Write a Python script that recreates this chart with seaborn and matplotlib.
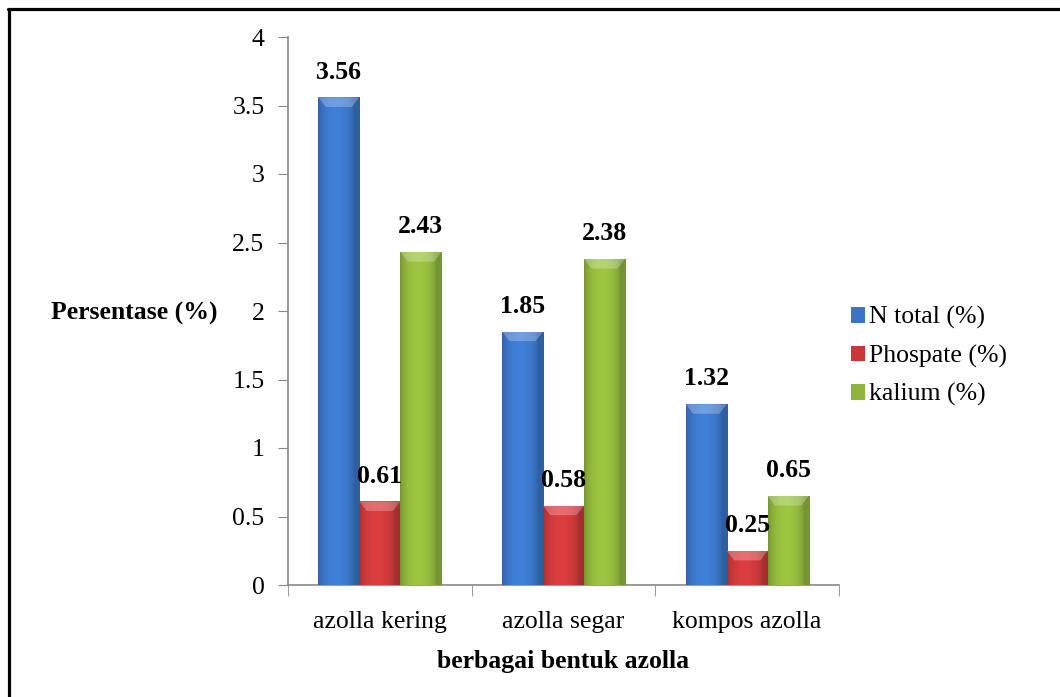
import numpy as np
import pandas as pd
import seaborn as sns
import matplotlib.pyplot as plt
from matplotlib.patches import Patch
from matplotlib.lines import Line2D
from matplotlib.colors import to_rgb

# data
kategori = ["azolla kering", "azolla segar", "kompos azolla"]
seri = ["N total (%)", "Phospate (%)", "kalium (%)"]
n_total = [3.56, 1.85, 1.32]
phospate = [0.61, 0.58, 0.25]
kalium = [2.43, 2.38, 0.65]
yticks = [0, 0.5, 1, 1.5, 2, 2.5, 3, 3.5, 4]
ytick_labels = ["0", "0.5", "1", "1.5", "2", "2.5", "3", "3.5", "4"]
warna = ["#3A74C4", "#C8383A", "#8FB43C"]

df = pd.DataFrame({
    "bentuk": kategori * 3,
    "seri": [seri[0]] * 3 + [seri[1]] * 3 + [seri[2]] * 3,
    "nilai": n_total + phospate + kalium,
})

sns.set_style("white")
plt.rcParams["font.family"] = ["Liberation Serif", "DejaVu Serif"]
plt.rcParams["text.color"] = "black"
plt.rcParams["xtick.color"] = "black"
plt.rcParams["ytick.color"] = "black"
plt.rcParams["axes.labelcolor"] = "black"
fs = 18.5

fig = plt.figure(figsize=(10.6, 6.97), dpi=100)
ax = fig.add_axes([288 / 1060, 1 - 585 / 697, 551 / 1060, 548 / 697])

sns.barplot(data=df, x="bentuk", y="nilai", hue="seri", palette=warna,
            width=0.67, saturation=1, ax=ax, legend=False, zorder=2)

# gradient shading on each bar (excel style)
bars = [p for p in ax.patches if p.get_height() > 0]
for p in bars:
    x0, w, h = p.get_x(), p.get_width(), p.get_height()
    base = np.array(to_rgb(p.get_facecolor()))
    t = np.linspace(0, 1, 64)
    shade = 0.82 + 0.28 * np.sin(np.pi * np.clip(t * 1.15, 0, 1)) ** 0.6
    img = np.clip(base[None, :] * shade[:, None], 0, 1)[None, :, :]
    im = ax.imshow(img, extent=[x0, x0 + w, 0, h], aspect="auto", zorder=3,
                   interpolation="bilinear")
    im.set_clip_path(p)
    # top bevel highlight
    ax.add_patch(plt.Polygon([[x0, h], [x0 + w, h], [x0 + w * 0.82, h - 0.07],
                              [x0 + w * 0.18, h - 0.07]], closed=True,
                             facecolor="white", alpha=0.25, lw=0, zorder=4))
    ax.text(x0 + w / 2, h + 0.1, f"{h:.2f}", ha="center", va="bottom",
            fontsize=fs, fontweight="bold", color="black", zorder=5)

ax.set_xlim(-0.5, 2.5)
ax.set_ylim(0, 4)
ax.set_yticks(yticks)
ax.set_yticklabels(ytick_labels)
ax.set_xticks(range(len(kategori)))
ax.set_xticklabels(kategori)
ax.set_xticks([-0.5, 0.5, 1.5, 2.5], minor=True)
ax.tick_params(axis="x", which="major", length=0, pad=19, labelsize=fs, labelcolor="black")
ax.tick_params(axis="x", which="minor", length=8, color="#888888", direction="out")
ax.tick_params(axis="y", length=7, color="#888888", direction="out", pad=10,
               labelsize=fs, labelcolor="black")
ax.yaxis.set_ticks_position("left")
ax.xaxis.set_ticks_position("bottom")
for s in ["top", "right"]:
    ax.spines[s].set_visible(False)
for s in ["left", "bottom"]:
    ax.spines[s].set_color("#888888")
    ax.spines[s].set_linewidth(1.2)

ax.set_xlabel("berbagai bentuk azolla", fontsize=fs, fontweight="bold", labelpad=12,
              color="black")
ax.set_ylabel("")
fig.text(134 / 1060, 1 - 313 / 697, "Persentase (%)", fontsize=fs,
         fontweight="bold", ha="center", va="center", color="black")

handles = [Patch(facecolor=c, edgecolor="none") for c in warna]
fig.legend(handles, seri, loc="upper left", bbox_to_anchor=(841 / 1060, 1 - 296 / 697),
           frameon=False, fontsize=fs, handlelength=0.55, handleheight=0.55,
           handletextpad=0.15, labelspacing=0.6, borderaxespad=0)

# outer border
fig.add_artist(Line2D([8.5 / 1060, 8.5 / 1060], [0, 1 - 9 / 697], color="black", lw=2.3))
fig.add_artist(Line2D([7.5 / 1060, 1], [1 - 9 / 697, 1 - 9 / 697], color="black", lw=2.3))

fig.savefig("out.png", dpi=100)
